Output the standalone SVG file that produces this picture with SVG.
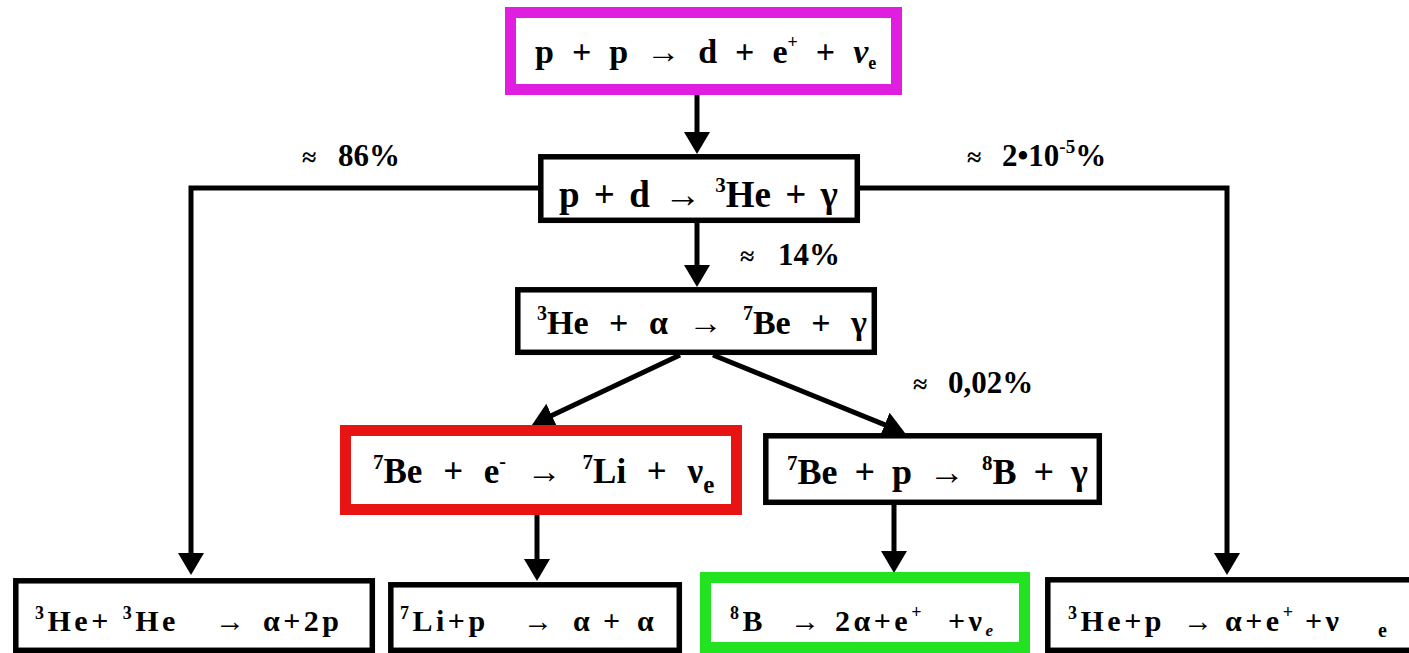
<svg xmlns="http://www.w3.org/2000/svg" width="1409" height="653" viewBox="0 0 1409 653">
<defs>
<style>
.t{font-family:'Liberation Serif','Times New Roman','DejaVu Serif',serif;font-weight:700;fill:#000}
.bt{font-size:30px;letter-spacing:3.5px}
.box{fill:#fff;stroke:#000;stroke-width:5.5}
.mag{fill:#fff;stroke:#e01ee0;stroke-width:11}
.red{fill:#fff;stroke:#e81414;stroke-width:11}
.grn{fill:#fff;stroke:#22e222;stroke-width:11}
.con{fill:none;stroke:#000;stroke-width:5;marker-end:url(#ah)}
.ax{font-size:26px}
</style>
<marker id="ah" markerUnits="userSpaceOnUse" markerWidth="22" markerHeight="26" viewBox="0 0 22 26" refX="13" refY="13" orient="auto">
<path d="M0,0 L22,13 L0,26 z" fill="#000"/>
</marker>
</defs>
<rect width="1409" height="653" fill="#fff"/>

<g id="connectors">
<path class="con" d="M697,95 V145"/>
<path class="con" d="M697,223 V278"/>
<path class="con" d="M538,188 H191 V566"/>
<path class="con" d="M860,188 H1227 V566"/>
<path class="con" d="M680,355 L540.1,421.1"/>
<path class="con" d="M713,355 L896.7,429.6"/>
<path class="con" d="M537,515 V572"/>
<path class="con" d="M894,505 V564"/>
</g>

<g id="labels">
<text class="t" font-size="31" y="166"><tspan class="ax" x="302">≈ </tspan><tspan x="338">86%</tspan></text>
<text class="t" font-size="31" y="265"><tspan class="ax" x="740">≈ </tspan><tspan x="778">14%</tspan></text>
<text class="t" font-size="31" y="166"><tspan class="ax" x="967">≈ </tspan><tspan x="1002">2•10</tspan><tspan font-size="19" dy="-13">-5</tspan><tspan dy="13">%</tspan></text>
<text class="t" font-size="31" y="393"><tspan class="ax" x="913">≈ </tspan><tspan x="948">0,02%</tspan></text>
</g>

<g id="node-pp">
<rect class="mag" x="510.5" y="12.5" width="386" height="77"/>
<text class="t" font-size="34" x="535" y="63" word-spacing="9.5">p + p → d + e<tspan font-size="18" dy="-15">+</tspan><tspan dy="15"> + </tspan><tspan font-style="italic">ν</tspan><tspan font-size="18" dy="6">e</tspan></text>
</g>

<g id="node-pd">
<rect class="box" x="540.8" y="156.8" width="316.5" height="63.5"/>
<text class="t" font-size="37" x="559" y="207" word-spacing="5">p + d → <tspan font-size="21" dy="-15">3</tspan><tspan dy="15">He + γ</tspan></text>
</g>

<g id="node-he-alpha">
<rect class="box" x="517.8" y="289.8" width="356.5" height="62.5"/>
<text class="t" font-size="34" x="537" y="334" word-spacing="12"><tspan font-size="20" dy="-14">3</tspan><tspan dy="14">He + α → </tspan><tspan font-size="20" dy="-14">7</tspan><tspan dy="14">Be + γ</tspan></text>
</g>

<g id="node-be-e">
<rect class="red" x="345.5" y="430.5" width="391" height="79"/>
<text class="t" font-size="35" x="373" y="483" word-spacing="12"><tspan font-size="21" dy="-14">7</tspan><tspan dy="14">Be + e</tspan><tspan font-size="20" dy="-15">-</tspan><tspan dy="15"> → </tspan><tspan font-size="21" dy="-14">7</tspan><tspan dy="14">Li + ν</tspan><tspan font-size="25" dy="10">e</tspan></text>
</g>

<g id="node-be-p">
<rect class="box" x="765.8" y="435.8" width="333.5" height="66.5"/>
<text class="t" font-size="36" x="787" y="484" word-spacing="8"><tspan font-size="21" dy="-14">7</tspan><tspan dy="14">Be + p → </tspan><tspan font-size="21" dy="-14">8</tspan><tspan dy="14">B + γ</tspan></text>
</g>

<g id="node-he-he">
<rect class="box" x="15.8" y="580.8" width="356.5" height="69.5"/>
<text class="t bt" y="631"><tspan x="35" font-size="18" dy="-12">3</tspan><tspan dy="12">He+ </tspan><tspan font-size="18" dy="-12">3</tspan><tspan dy="12">He </tspan><tspan x="215">→ </tspan><tspan x="263">α+2p</tspan></text>
</g>

<g id="node-li-p">
<rect class="box" x="390.8" y="584.8" width="288.5" height="65.5"/>
<text class="t bt" y="631"><tspan x="400" font-size="18" dy="-12">7</tspan><tspan dy="12">Li+p </tspan><tspan x="523">→ </tspan><tspan x="573">α</tspan><tspan x="603">+</tspan><tspan x="637">α</tspan></text>
</g>

<g id="node-b8">
<rect class="grn" x="705.5" y="577.5" width="319" height="70"/>
<text class="t bt" y="631"><tspan x="730" font-size="18" dy="-12">8</tspan><tspan dy="12">B </tspan><tspan x="790">→ </tspan><tspan x="835">2α+e</tspan><tspan font-size="18" dy="-13">+</tspan><tspan x="948" dy="13">+ν</tspan><tspan font-size="17" font-style="italic" dy="5">e</tspan></text>
</g>

<g id="node-hep">
<rect class="box" x="1047.8" y="579.8" width="370" height="70.5"/>
<text class="t bt" y="631"><tspan x="1068" font-size="18" dy="-12">3</tspan><tspan dy="12">He+p </tspan><tspan x="1183">→ </tspan><tspan x="1225">α+e</tspan><tspan font-size="18" dy="-13">+</tspan><tspan x="1305" dy="13">+ν</tspan><tspan x="1378" font-size="20" dy="6">e</tspan></text>
</g>
</svg>
